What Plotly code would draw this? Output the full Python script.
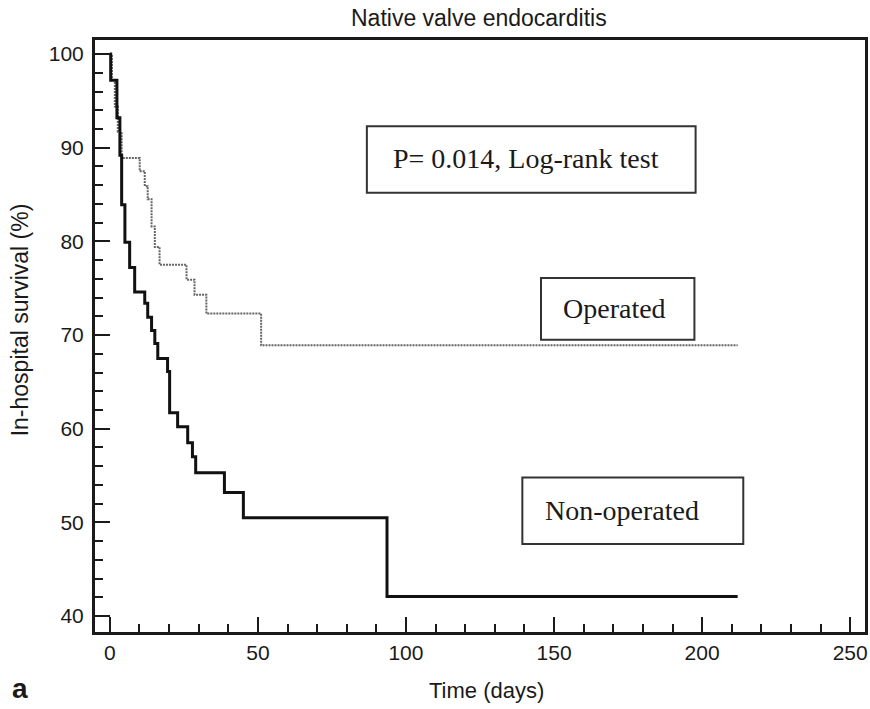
import plotly.graph_objects as go

# Kaplan-Meier step data (time in days, survival in %)
days_nonoperated = [0, 0.3, 2.4, 3.4, 4.0, 5.1, 6.7, 8.4, 11.8, 12.8, 14.1, 15.2, 16.2,
                    19.5, 20.2, 22.9, 26.3, 27.9, 29.0, 38.7, 45.1, 93.6, 212]
surv_nonoperated = [100, 97.2, 93.2, 89.2, 83.9, 79.9, 77.2, 74.6, 73.4, 71.9, 70.5, 69.1, 67.5,
                    66.1, 61.7, 60.2, 58.5, 57.0, 55.3, 53.2, 50.5, 42.1, 42.1]

days_operated = [0, 0.7, 1.7, 2.7, 4.0, 10.1, 11.8, 12.8, 14.1, 15.2, 16.8, 25.9, 28.6, 32.6, 51.1, 212]
surv_operated = [100, 97.2, 94.4, 91.7, 88.9, 87.5, 85.9, 84.5, 81.6, 79.4, 77.5, 75.9, 74.3, 72.3, 68.9, 68.9]

x_ticks = [0, 50, 100, 150, 200, 250]
y_ticks = [40, 50, 60, 70, 80, 90, 100]

title_text = "Native valve endocarditis"
x_title = "Time (days)"
y_title = "In-hospital survival (%)"
p_text = "P= 0.014, Log-rank test"
label_operated = "Operated"
label_nonoperated = "Non-operated"
panel_label = "a"

SANS = "Liberation Sans, Arial, sans-serif"
SERIF = "Liberation Serif, Times New Roman, serif"
INK = "#1a1a1a"

fig = go.Figure()
fig.add_trace(go.Scatter(x=days_operated, y=surv_operated, mode="lines",
                         line=dict(shape="hv", color="#666666", width=2, dash="2px,1px"),
                         showlegend=False, hoverinfo="skip"))
fig.add_trace(go.Scatter(x=days_nonoperated, y=surv_nonoperated, mode="lines",
                         line=dict(shape="hv", color="#111111", width=3),
                         showlegend=False, hoverinfo="skip"))

axis_common = dict(ticks="inside", ticklen=15, tickwidth=2, tickcolor=INK,
                   showline=True, linewidth=3, linecolor=INK, mirror=True,
                   showgrid=False, zeroline=False,
                   tickfont=dict(family=SANS, size=21, color=INK))
fig.update_xaxes(range=[-5, 255], tickvals=x_ticks, ticktext=[str(v) for v in x_ticks],
                 minor=dict(tick0=0, dtick=10, ticks="inside", ticklen=8, tickwidth=2, tickcolor=INK),
                 **axis_common)
fig.update_yaxes(range=[38.3, 101.5], tickvals=y_ticks, ticktext=[str(v) for v in y_ticks],
                 minor=dict(tick0=0, dtick=2, ticks="inside", ticklen=8, tickwidth=2, tickcolor=INK),
                 ticklabelstandoff=4, **axis_common)

# Boxes (data coordinates)
boxes = [
    (86.8, 197.8, 85.2, 92.3, p_text, 140.6, 88.8),
    (145.6, 197.4, 69.5, 76.1, label_operated, 170.5, 72.8),
    (139.3, 213.9, 47.7, 54.8, label_nonoperated, 172.9, 51.3),
]
for x0, x1, y0, y1, txt, tx, ty in boxes:
    fig.add_shape(type="rect", xref="x", yref="y", x0=x0, x1=x1, y0=y0, y1=y1,
                  line=dict(color="#333333", width=2), fillcolor="white", layer="below")
    fig.add_annotation(x=tx, y=ty, xref="x", yref="y", text=txt, showarrow=False,
                       font=dict(family=SERIF, size=28, color=INK),
                       xanchor="center", yanchor="middle")

fig.add_annotation(x=0.499, y=1.037, xref="paper", yref="paper", text=title_text,
                   showarrow=False, font=dict(family=SANS, size=23, color=INK),
                   xanchor="center", yanchor="middle")
fig.add_annotation(x=0.508, y=-0.098, xref="paper", yref="paper", text=x_title,
                   showarrow=False, font=dict(family=SANS, size=22, color=INK),
                   xanchor="center", yanchor="middle")
fig.add_annotation(x=-0.097, y=0.527, xref="paper", yref="paper", text=y_title,
                   showarrow=False, textangle=-90, font=dict(family=SANS, size=23, color=INK),
                   xanchor="center", yanchor="middle")
fig.add_annotation(x=-0.097, y=-0.095, xref="paper", yref="paper", text="<b>" + panel_label + "</b>",
                   showarrow=False, font=dict(family=SANS, size=28, color=INK),
                   xanchor="center", yanchor="middle")

fig.update_layout(width=870, height=709, margin=dict(l=95, r=2, t=40, b=77),
                  paper_bgcolor="white", plot_bgcolor="white")

fig.write_html("out.html")
